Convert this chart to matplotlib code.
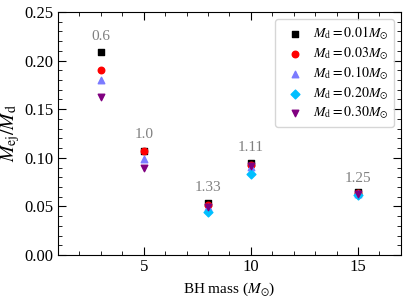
import numpy as np
import matplotlib
matplotlib.use("Agg")
import matplotlib.pyplot as plt
from matplotlib.ticker import MultipleLocator

plt.rcParams["font.family"] = "Liberation Serif"
plt.rcParams["mathtext.fontset"] = "stix"

bh_mass = [3, 5, 8, 10, 15]
ratio_labels = ["0.6", "1.0", "1.33", "1.11", "1.25"]
label_y = [0.225, 0.124, 0.069, 0.111, 0.079]

md_001 = [0.209, 0.107, 0.0535, 0.095, 0.0645]
md_003 = [0.190, 0.107, 0.0515, 0.093, 0.0640]
md_010 = [0.180, 0.0985, 0.049, 0.0905, 0.0625]
md_020 = [np.nan, np.nan, 0.0445, 0.083, 0.062]
md_030 = [0.1625, 0.089, 0.049, 0.0915, 0.063]

fig = plt.figure(figsize=(4.07, 3.01), dpi=100)
ax = fig.add_axes([0.1425, 0.153, 0.8425, 0.807])

ax.scatter(bh_mass, md_001, marker="s", color="black", s=22, label=r"$M_{\rm d}=0.01M_{\odot}$", zorder=3)
ax.scatter(bh_mass, md_003, marker="o", color="red", s=22, label=r"$M_{\rm d}=0.03M_{\odot}$", zorder=3)
ax.scatter(bh_mass, md_010, marker="^", color="#7b7bff", s=22, label=r"$M_{\rm d}=0.10M_{\odot}$", zorder=3)
ax.scatter(bh_mass, md_020, marker="D", color="#00bfff", s=20, label=r"$M_{\rm d}=0.20M_{\odot}$", zorder=3)
ax.scatter(bh_mass, md_030, marker="v", color="#800080", s=22, label=r"$M_{\rm d}=0.30M_{\odot}$", zorder=3)

for x, y, t in zip(bh_mass, label_y, ratio_labels):
    ax.text(x, y, t, color="gray", fontsize=11, ha="center", va="center")

ax.set_xlim(1, 17)
ax.set_ylim(0, 0.25)
ax.xaxis.set_major_locator(MultipleLocator(5))
ax.xaxis.set_minor_locator(MultipleLocator(1))
ax.yaxis.set_major_locator(MultipleLocator(0.05))
ax.yaxis.set_minor_locator(MultipleLocator(0.01))
ax.tick_params(which="both", direction="in", top=True, right=True, labelsize=12)
ax.tick_params(which="major", length=6, pad=3)
ax.tick_params(which="minor", length=3)

ax.set_xlabel(r"BH mass ($M_{\odot}$)", fontsize=11, labelpad=4)
ax.set_ylabel(r"$M_{\rm ej}/M_{\rm d}$", fontsize=14, labelpad=2)

ax.legend(loc="upper right", fontsize=10, handletextpad=0.3, borderpad=0.4, labelspacing=0.2)

fig.savefig("out.png", dpi=100)
